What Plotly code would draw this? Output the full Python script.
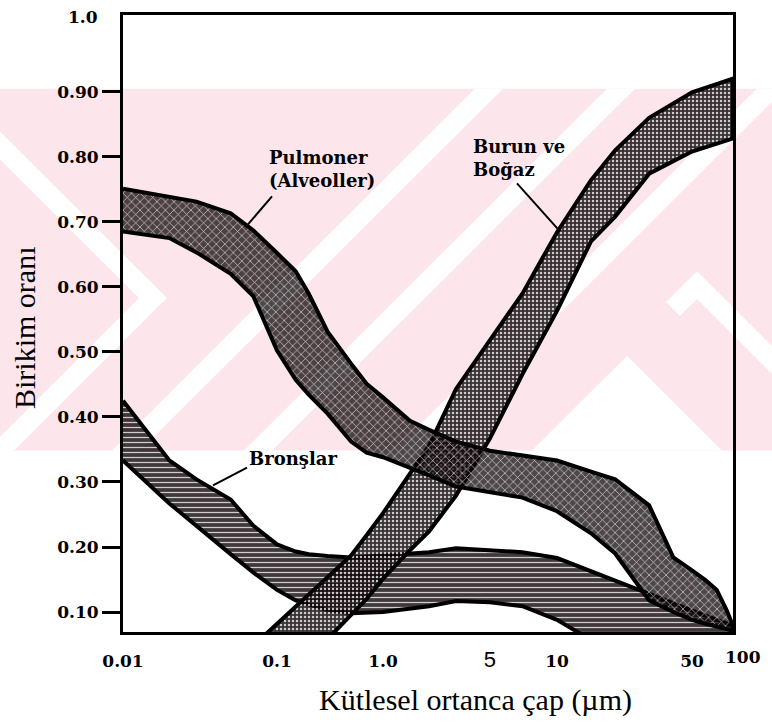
import numpy as np
import plotly.graph_objects as go

# ---------------- data ----------------
X_TICK_VALUES = [0.01, 0.1, 1.0, 5, 10, 50, 100]
X_TICK_LABELS = ["0.01", "0.1", "1.0", "5", "10", "50", "100"]
Y_TICK_VALUES = [0.1, 0.2, 0.3, 0.4, 0.5, 0.6, 0.7, 0.8, 0.9]
Y_TICK_LABELS = ["0.10", "0.20", "0.30", "0.40", "0.50", "0.60", "0.70", "0.80", "0.90"]

# Pulmoner (Alveoller) band: mass median diameter (um), upper / lower deposition fraction
pulm_d = [0.01, 0.02, 0.03, 0.05, 0.07, 0.1, 0.15, 0.2, 0.3, 0.5, 0.7, 1, 1.5, 2, 3, 5, 7, 10,
          15, 20, 30, 40, 50, 60, 70, 80, 87]
pulm_upper = [0.751, 0.739, 0.731, 0.713, 0.687, 0.652, 0.624, 0.589, 0.531, 0.482, 0.451, 0.430,
              0.394, 0.380, 0.362, 0.348, 0.341, 0.333, 0.316, 0.304, 0.264, 0.184, 0.164, 0.149,
              0.134, 0.103, 0.080]
pulm_lower = [0.685, 0.675, 0.653, 0.620, 0.586, 0.502, 0.457, 0.434, 0.405, 0.362, 0.345, 0.338,
              0.322, 0.310, 0.293, 0.284, 0.276, 0.255, 0.221, 0.190, 0.118, 0.100, 0.088, 0.082,
              0.077, 0.074, 0.071]

# Burun ve Bogaz band
burun_d = [0.07, 0.1, 0.2, 0.3, 0.5, 0.7, 1, 1.5, 2, 3, 5, 7, 10, 15, 20, 30, 50, 70, 87]
burun_upper = [0.048, 0.082, 0.128, 0.154, 0.187, 0.218, 0.252, 0.313, 0.356, 0.443, 0.518, 0.590,
               0.684, 0.764, 0.810, 0.860, 0.899, 0.911, 0.920]
burun_lower = [0.030, 0.000, 0.029, 0.059, 0.095, 0.120, 0.151, 0.195, 0.224, 0.279, 0.367, 0.466,
               0.563, 0.670, 0.708, 0.774, 0.808, 0.820, 0.828]

# Bronslar band
bron_d = [0.01, 0.02, 0.03, 0.05, 0.07, 0.1, 0.15, 0.2, 0.3, 0.5, 1, 2, 3, 5, 7, 10, 15, 20, 30,
          50, 70, 87]
bron_upper = [0.425, 0.333, 0.304, 0.273, 0.233, 0.204, 0.193, 0.189, 0.186, 0.184, 0.187, 0.192,
              0.198, 0.195, 0.192, 0.183, 0.163, 0.149, 0.128, 0.102, 0.088, 0.079]
bron_lower = [0.333, 0.267, 0.233, 0.189, 0.161, 0.134, 0.118, 0.111, 0.103, 0.098, 0.100, 0.109,
              0.117, 0.115, 0.109, 0.088, 0.057, 0.040, 0.040, 0.040, 0.040, 0.040]

# ---------------- axis scale ----------------
# The printed abscissa is a hand-drawn, distorted logarithmic scale: each labelled
# diameter sits at the following fraction of the frame width.
AXIS_FRACTION = [0.0, 0.2525, 0.4262, 0.6016, 0.7115, 0.9328, 1.0164]


def xs(d):
    return np.interp(np.log10(np.asarray(d, float)), np.log10(X_TICK_VALUES), AXIS_FRACTION)


W, H = 772, 724
ML, MR, MT, MB = 123, 39, 13, 92
PW, PH = W - ML - MR, H - MT - MB


def px(x):  # page pixel -> paper
    return (x - ML) / PW


def py(y):
    return (H - MB - y) / PH


fig = go.Figure()


def band(d, up, lo, name, shape, size, solidity, dark):
    x = xs(d)
    fig.add_trace(go.Scatter(
        x=np.concatenate([x, x[::-1]]),
        y=np.concatenate([np.asarray(up), np.asarray(lo)[::-1]]),
        mode="lines", fill="toself", name=name, showlegend=False,
        line=dict(color="black", width=4),
        fillcolor=f"rgba(10,0,3,{dark})",
        fillpattern=dict(shape=shape, fgcolor="white", fgopacity=0.75,
                         bgcolor=f"rgba(10,0,3,{dark})", size=size, solidity=solidity),
        hoverinfo="skip",
    ))


band(bron_d, bron_upper, bron_lower, "Bronşlar", "-", 5, 0.25, 0.78)
band(burun_d, burun_upper, burun_lower, "Burun ve Boğaz", ".", 4, 0.3, 0.8)
band(pulm_d, pulm_upper, pulm_lower, "Pulmoner (Alveoller)", "x", 6, 0.22, 0.72)

# ---------------- watermark (pink chevrons behind the chart) ----------------
PINK = "#fce6eb"
shapes = [dict(type="rect", xref="paper", yref="paper", x0=px(0), x1=px(W), y0=py(450), y1=py(87),
               fillcolor=PINK, line=dict(width=0), layer="below")]


def poly(points, color="white"):
    path = "M " + " L ".join(f"{px(a):.4f},{py(b):.4f}" for a, b in points) + " Z"
    return dict(type="path", xref="paper", yref="paper", path=path, fillcolor=color,
                line=dict(width=0), layer="below")


shapes += [
    poly([(0, 130), (167, 297), (0, 464), (0, 436), (139, 297), (0, 158)]),
    poly([(112, 450), (475, 87), (503, 87), (140, 450)]),
    poly([(244, 450), (607, 87), (635, 87), (272, 450)]),
    poly([(394, 450), (757, 87), (785, 87), (422, 450)]),
    poly([(627, 355), (722, 450), (532, 450)]),
    poly([(697, 270), (790, 363), (790, 391), (697, 298), (680, 315), (666, 301)]),
]

# leader lines
LEADER = dict(color="black", width=2)
shapes += [
    dict(type="line", xref="paper", yref="paper", x0=px(272), y0=py(195), x1=px(248), y1=py(223), line=LEADER),
    dict(type="line", xref="paper", yref="paper", x0=px(517), y0=py(182), x1=px(560), y1=py(230), line=LEADER),
    dict(type="line", xref="paper", yref="paper", x0=px(247), y0=py(467), x1=px(213), y1=py(485), line=LEADER),
]

LABEL_FONT = dict(family="DejaVu Serif", size=18, color="black", weight="bold")
TICK_FONT = dict(family="DejaVu Serif", size=17, color="black", weight="bold")
TITLE_FONT = dict(family="Liberation Serif", size=30, color="black")

annotations = [
    dict(text="Pulmoner<br>(Alveoller)", x=px(267), y=py(167), xref="paper", yref="paper",
         xanchor="left", yanchor="middle", align="left", showarrow=False, font=LABEL_FONT),
    dict(text="Burun ve<br>Boğaz", x=px(471), y=py(156), xref="paper", yref="paper",
         xanchor="left", yanchor="middle", align="left", showarrow=False, font=LABEL_FONT),
    dict(text="Bronşlar", x=px(247), y=py(458), xref="paper", yref="paper",
         xanchor="left", yanchor="middle", align="left", showarrow=False, font=LABEL_FONT),
    dict(text="1.0", x=px(100), y=py(15), xref="paper", yref="paper", xanchor="right",
         yanchor="middle", showarrow=False, font=TICK_FONT),
    dict(text=X_TICK_LABELS[-1], x=float(xs([X_TICK_VALUES[-1]])[0]), y=py(657), xref="paper",
         yref="paper", xanchor="center", yanchor="middle", showarrow=False, font=TICK_FONT),
    dict(text="Kütlesel ortanca çap (µm)", x=px(475), y=py(700), xref="paper", yref="paper",
         xanchor="center", yanchor="middle", showarrow=False, font=TITLE_FONT),
    dict(text="Birikim oranı", x=px(25), y=py(327), xref="paper", yref="paper", textangle=-90,
         xanchor="center", yanchor="middle", showarrow=False, font=TITLE_FONT),
]

x_ticktext = [t if t != "5" else '<span style="font-family:Liberation Sans;font-size:22px;font-weight:normal">5</span>'
              for t in X_TICK_LABELS[:-1]]

fig.update_layout(
    width=W, height=H,
    margin=dict(l=ML, r=MR, t=MT, b=MB, pad=0),
    paper_bgcolor="white", plot_bgcolor="rgba(0,0,0,0)",
    shapes=shapes, annotations=annotations,
    showlegend=False,
    xaxis=dict(range=[0, 1], tickmode="array", tickvals=list(xs(X_TICK_VALUES[:-1])),
               ticktext=x_ticktext, ticks="", showgrid=False, zeroline=False,
               showline=True, linecolor="black", linewidth=3, mirror=True,
               tickfont=TICK_FONT, ticklabelstandoff=12),
    yaxis=dict(range=[0.0693, 1.018], tickmode="array", tickvals=Y_TICK_VALUES,
               ticktext=Y_TICK_LABELS, ticks="outside", ticklen=18, tickwidth=2.5,
               tickcolor="black", showgrid=False, zeroline=False,
               showline=True, linecolor="black", linewidth=3, mirror=True,
               tickfont=TICK_FONT),
)

fig.write_html("out.html")
